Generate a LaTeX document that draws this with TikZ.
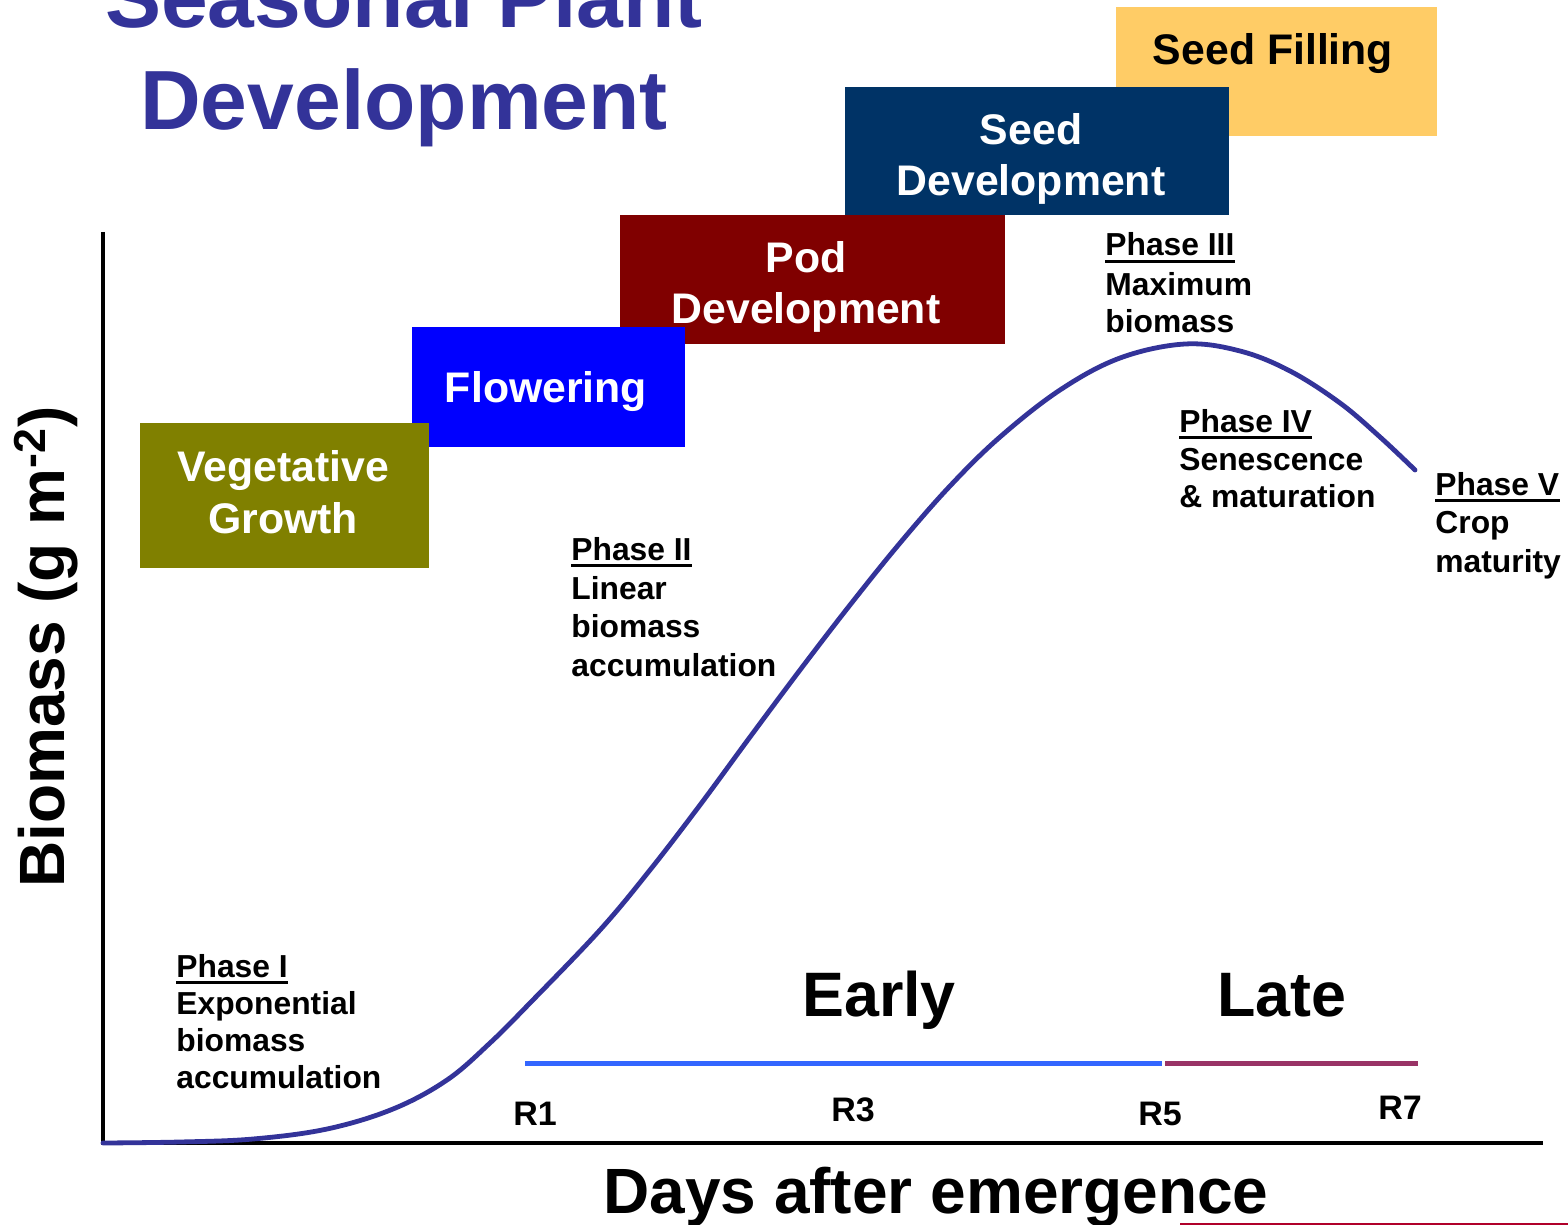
\documentclass[tikz,border=0pt]{standalone}
\usepackage{fontspec}
\setmainfont{Liberation Sans}
\definecolor{titleblue}{HTML}{333399}
\definecolor{vegcol}{HTML}{808000}
\definecolor{flowcol}{HTML}{0000FF}
\definecolor{podcol}{HTML}{800000}
\definecolor{seeddevcol}{HTML}{003366}
\definecolor{seedfillcol}{HTML}{FFCC66}
\definecolor{earlycol}{HTML}{3366FF}
\definecolor{latecol}{HTML}{993366}
\definecolor{slidered}{HTML}{B0002A}
\begin{document}
\begin{tikzpicture}[x=0.5pt,y=-0.5pt,
  boxtxt/.style={text=white, font=\fontsize{21.4}{25}\selectfont\bfseries, inner sep=0pt, anchor=base},
  phtxt/.style={font=\fontsize{15.9}{18}\selectfont\bfseries, inner sep=0pt, anchor=base west},
  rlab/.style={font=\fontsize{17}{20}\selectfont\bfseries, inner sep=0pt, anchor=base},
  bigtxt/.style={font=\fontsize{31.4}{36}\selectfont\bfseries, inner sep=0pt, anchor=base},
  axlab/.style={font=\fontsize{32}{38}\selectfont\bfseries, inner sep=0pt, anchor=base},
  titletxt/.style={text=titleblue, font=\fontsize{42}{50}\selectfont\bfseries, inner sep=0pt, anchor=base},
  uline/.style={line width=1.6pt},
  axisline/.style={line width=2pt, black},
  curveline/.style={line width=2.4pt, titleblue, line cap=round}
]
\useasboundingbox (0,0) rectangle (1568,1225);
\fill[white] (0,0) rectangle (1568,1225);

% title
\node[titletxt] (title1) at (404,28) {Seasonal Plant};
\node[titletxt] (title2) at (404,130) {Development};

% stage boxes (back to front)
\fill[seedfillcol] (1116,7) rectangle (1437,136);
\node[boxtxt, text=black] (sf) at (1273,65) {Seed Filling};
\fill[seeddevcol] (845,87) rectangle (1229,215);
\node[boxtxt] (sd1) at (1031,145) {Seed};
\node[boxtxt] (sd2) at (1031,196) {Development};
\fill[podcol] (620,215) rectangle (1005,344);
\node[boxtxt] (pd1) at (806,272) {Pod};
\node[boxtxt] (pd2) at (806,323) {Development};
\fill[flowcol] (412,327) rectangle (685,447);
\node[boxtxt] (fl) at (546,402) {Flowering};
\fill[vegcol] (140,423) rectangle (429,568);
\node[boxtxt] (vg1) at (283,481) {Vegetative};
\node[boxtxt] (vg2) at (283,533) {Growth};

% axes
\coordinate (ytop) at (103,232);
\coordinate (orig) at (103,1143);
\coordinate (xend) at (1543,1143);
\draw[axisline] (ytop) -- (orig) -- (xend);

% biomass curve
\draw[curveline] plot[smooth, tension=0.6] coordinates {
 (103,1143) (180,1142) (253,1139) (327,1129) (393,1109) (447,1080)
 (490,1043) (530,1003) (600,930) (650,870) (700,805) (750,737)
 (800,670) (850,605) (900,543) (950,486) (1000,437) (1060,390)
 (1120,358) (1185,344) (1240,351) (1290,371) (1340,403)
 (1380,437) (1415,470)};

% early / late bars
\coordinate (e1) at (525,1063);
\coordinate (e2) at (1162,1063);
\coordinate (l1) at (1165,1063);
\coordinate (l2) at (1418,1063);
\draw[line width=2.5pt, earlycol] (e1) -- (e2);
\draw[line width=2.5pt, latecol] (l1) -- (l2);
\node[bigtxt] (early) at (879,1016) {Early};
\node[bigtxt] (late) at (1282,1016) {Late};

% R stages
\node[rlab] (r1) at (535,1125) {R1};
\node[rlab] (r3) at (853,1121) {R3};
\node[rlab] (r5) at (1160,1125) {R5};
\node[rlab] (r7) at (1400,1119) {R7};

% axis labels
\node[axlab] (xlab) at (936,1213) {Days after emergence};
\node[axlab, rotate=90] (ylab) at (64,647) {Biomass (g m\textsuperscript{-2})};

% phase labels
\node[phtxt] (p1h) at (176,977) {Phase I};
\draw[uline] ([yshift=-2.6pt]p1h.base west) -- ([yshift=-2.6pt]p1h.base east);
\node[phtxt] (p1a) at (176,1014) {Exponential};
\node[phtxt] (p1b) at (176,1051) {biomass};
\node[phtxt] (p1c) at (176,1088) {accumulation};

\node[phtxt] (p2h) at (571,560) {Phase II};
\draw[uline] ([yshift=-2.6pt]p2h.base west) -- ([yshift=-2.6pt]p2h.base east);
\node[phtxt] (p2a) at (571,599) {Linear};
\node[phtxt] (p2b) at (571,637) {biomass};
\node[phtxt] (p2c) at (571,676) {accumulation};

\node[phtxt] (p3h) at (1105,256) {Phase III};
\draw[uline] ([yshift=-2.6pt]p3h.base west) -- ([yshift=-2.6pt]p3h.base east);
\node[phtxt] (p3a) at (1105,295) {Maximum};
\node[phtxt] (p3b) at (1105,332) {biomass};

\node[phtxt] (p4h) at (1179,432) {Phase IV};
\draw[uline] ([yshift=-2.6pt]p4h.base west) -- ([yshift=-2.6pt]p4h.base east);
\node[phtxt] (p4a) at (1179,470) {Senescence};
\node[phtxt] (p4b) at (1179,507) {\& maturation};

\node[phtxt] (p5h) at (1435,495) {Phase V};
\draw[uline] ([yshift=-2.6pt]p5h.base west) -- ([yshift=-2.6pt]p5h.base east);
\node[phtxt] (p5a) at (1435,533) {Crop};
\node[phtxt] (p5b) at (1435,572) {maturity};

% slide decoration line at bottom right
\coordinate (rl1) at (1180,1224);
\coordinate (rl2) at (1568,1224);
\draw[line width=1.5pt, slidered] (rl1) -- (rl2);
\end{tikzpicture}
\end{document}
